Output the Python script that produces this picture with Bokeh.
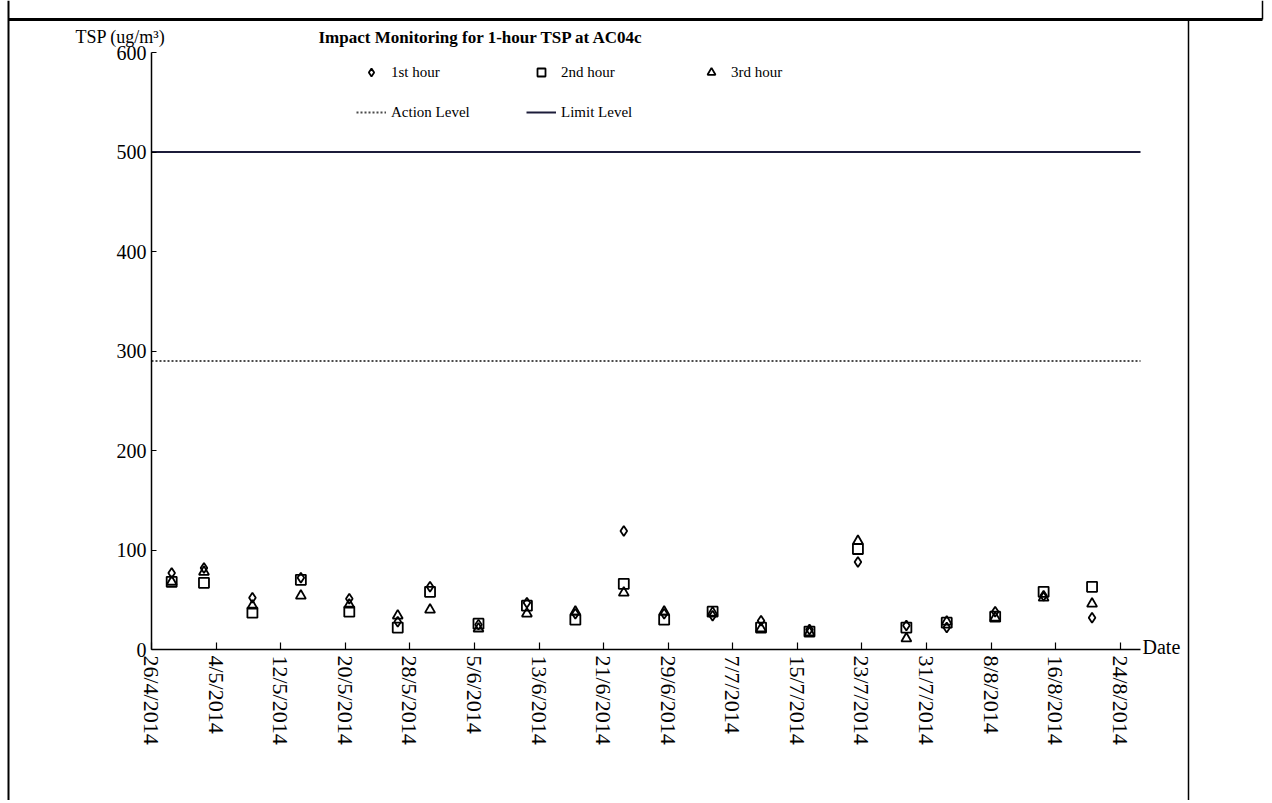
import math
import pandas as pd
from bokeh.plotting import figure
from bokeh.models import Range1d, FixedTicker, Legend, LegendItem
from bokeh.core.properties import value
from bokeh.embed import file_html
from bokeh.resources import INLINE

# ---- data -------------------------------------------------------------
sample_dates = [
    "2014-04-28 12:00", "2014-05-02 12:00", "2014-05-08 12:00", "2014-05-14 12:00",
    "2014-05-20 12:00", "2014-05-26 12:00", "2014-05-30 12:00", "2014-06-05 12:00",
    "2014-06-11 12:00", "2014-06-17 12:00", "2014-06-23 12:00", "2014-06-28 12:00",
    "2014-07-04 12:00", "2014-07-10 12:00", "2014-07-16 12:00", "2014-07-22 12:00",
    "2014-07-28 12:00", "2014-08-02 12:00", "2014-08-08 12:00", "2014-08-14 12:00",
    "2014-08-20 12:00",
]
first_hour = [77, 82, 52, 72, 51, 28, 63, 25, 47, 36, 119, 36, 34, 29, 20, 88, 24, 22, 38, 54, 32]
second_hour = [68, 67, 37, 70, 38, 22, 58, 26, 44, 30, 66, 30, 38, 22, 18, 101, 22, 27, 33, 58, 63]
third_hour = [68, 78, 44, 54, 45, 34, 40, 21, 36, 38, 57, 38, 37, 21, 17, 109, 11, 28, 32, 52, 46]

action_level = 290
limit_level = 500

tick_dates = [
    "2014-04-26", "2014-05-04", "2014-05-12", "2014-05-20", "2014-05-28", "2014-06-05",
    "2014-06-13", "2014-06-21", "2014-06-29", "2014-07-07", "2014-07-15", "2014-07-23",
    "2014-07-31", "2014-08-08", "2014-08-16", "2014-08-24",
]
tick_labels = [
    "26/4/2014", "4/5/2014", "12/5/2014", "20/5/2014", "28/5/2014", "5/6/2014",
    "13/6/2014", "21/6/2014", "29/6/2014", "7/7/2014", "15/7/2014", "23/7/2014",
    "31/7/2014", "8/8/2014", "16/8/2014", "24/8/2014",
]
y_ticks = [0, 100, 200, 300, 400, 500, 600]

title_text = "Impact Monitoring for 1-hour TSP at AC04c"
y_caption = "TSP (ug/m³)"
x_caption = "Date"

axis_start = pd.Timestamp("2014-04-26")
axis_end = pd.Timestamp("2014-08-26 12:00")
y_min, y_max = 0, 600

FONT = "Liberation Serif"

# ---- layout (pixels) ----------------------------------------------------
W, H = 1266, 800
AX_LEFT, AX_RIGHT = 151, 1140      # x pixel of axis_start / axis_end
AX_TOP, AX_BOTTOM = 52, 649        # y pixel of y_max / y_min
ppd = (AX_RIGHT - AX_LEFT) / ((axis_end - axis_start) / pd.Timedelta(days=1))
ppu = (AX_BOTTOM - AX_TOP) / (y_max - y_min)


def px_x(px):
    return axis_start + pd.Timedelta(days=(px - AX_LEFT) / ppd)


def px_y(py):
    return y_min + (AX_BOTTOM - py) / ppu


p = figure(
    width=W, height=H,
    x_axis_type="datetime",
    x_range=Range1d(px_x(0), px_x(W)), y_range=Range1d(px_y(H), px_y(0)),
    output_backend="svg", toolbar_location=None, min_border=0,
)
p.background_fill_color = "white"
p.border_fill_color = "white"
p.outline_line_color = None
p.xgrid.visible = False
p.ygrid.visible = False
p.title.visible = False

# page frame lines of the surrounding document table
p.segment(x0=[px_x(8), px_x(8), px_x(1262), px_x(1188)],
          y0=[px_y(0), px_y(19), px_y(0), px_y(19)],
          x1=[px_x(8), px_x(1262), px_x(1262), px_x(1188)],
          y1=[px_y(H), px_y(19), px_y(19), px_y(H)],
          line_color="black", line_width=[2, 3, 1.5, 1.5])

dates = pd.to_datetime(sample_dates)

r1 = p.scatter(dates, first_hour, marker="diamond", size=10, fill_alpha=0,
               line_color="black", line_width=1.8)
r2 = p.scatter(dates, second_hour, marker="square", size=10, fill_alpha=0,
               line_color="black", line_width=1.8)
r3 = p.scatter(dates, third_hour, marker="triangle", size=10, fill_alpha=0,
               line_color="black", line_width=1.8)

ra = p.line([axis_start, axis_end], [action_level, action_level], line_color="#4a4a4a",
            line_width=2, line_dash="2 2")
rl = p.line([axis_start, axis_end], [limit_level, limit_level], line_color="#1c1c3a",
            line_width=2)

legend = Legend(
    items=[
        LegendItem(label="1st hour", renderers=[r1]),
        LegendItem(label="2nd hour", renderers=[r2]),
        LegendItem(label="3rd hour", renderers=[r3]),
        LegendItem(label="Action Level", renderers=[ra]),
        LegendItem(label="Limit Level", renderers=[rl]),
    ],
    location=(356, H - 122), orientation="horizontal", ncols=3,
    glyph_width=30, glyph_height=20, label_height=20, label_width=115,
    label_standoff=5, spacing=20, padding=0, margin=0,
    border_line_color=None, background_fill_alpha=0,
    label_text_font=FONT, label_text_font_size="15px", label_text_color="black",
)
p.add_layout(legend, "center")

# ---- axes (drawn at fixed data locations inside the frame) -------------
start_ms = float(axis_start.value // 10**6)
end_ms = float(axis_end.value // 10**6)
tick_ms = [float(pd.Timestamp(d).value // 10**6) for d in tick_dates]

xa = p.xaxis[0]
xa.fixed_location = y_min
xa.bounds = (start_ms, end_ms)
xa.ticker = FixedTicker(ticks=tick_ms)
xa.major_label_overrides = {t: l for t, l in zip(tick_ms, tick_labels)}
xa.major_label_orientation = -math.pi / 2
xa.major_tick_in = 7
xa.major_tick_out = 0
xa.minor_tick_line_color = None
xa.major_label_standoff = 6
xa.major_label_text_font = FONT
xa.major_label_text_font_size = "22px"
xa.major_label_text_color = "black"
xa.axis_line_width = 1.5
xa.major_tick_line_width = 1.2

ya = p.yaxis[0]
ya.fixed_location = start_ms
ya.bounds = (y_min, y_max)
ya.ticker = FixedTicker(ticks=y_ticks)
ya.major_tick_in = 5
ya.major_tick_out = 0
ya.minor_tick_line_color = None
ya.major_label_standoff = 5
ya.major_label_text_font = FONT
ya.major_label_text_font_size = "20px"
ya.major_label_text_color = "black"
ya.axis_line_width = 1.5

# ---- captions -----------------------------------------------------------
p.text(x=[px_x(318)], y=[px_y(37)], text=[title_text], text_font=value(FONT),
       text_font_size="17px", text_font_style="bold", text_color="black",
       text_baseline="middle", text_align="left")
p.text(x=[px_x(75)], y=[px_y(36)], text=[y_caption], text_font=value(FONT),
       text_font_size="18px", text_color="black",
       text_baseline="middle", text_align="left")
p.text(x=[px_x(1142)], y=[px_y(646)], text=[x_caption], text_font=value(FONT),
       text_font_size="20px", text_color="black",
       text_baseline="middle", text_align="left")

open("out.html", "w").write(file_html(p, INLINE))
